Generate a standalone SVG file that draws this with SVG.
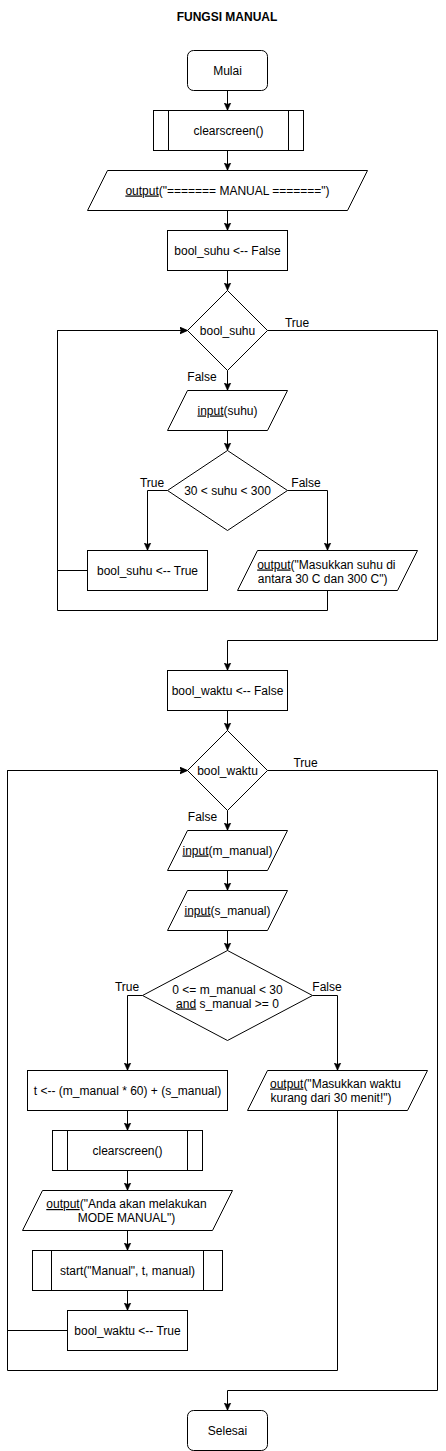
<svg xmlns="http://www.w3.org/2000/svg" width="446" height="1451" viewBox="0 0 446 1451">
<defs>
<style>
.n{fill:#fff;stroke:#000;stroke-width:1}
.e{fill:none;stroke:#000;stroke-width:1}
text{font-family:"Liberation Sans",Arial,Helvetica,sans-serif;font-size:12px;fill:#000}
.c{text-anchor:middle}
.t{font-weight:bold}
.u{text-decoration:underline}
</style>
<marker id="a" viewBox="0 0 8 8" refX="8" refY="4" markerWidth="8" markerHeight="8" markerUnits="userSpaceOnUse" orient="auto">
<path d="M0,0.5 L8,4 L0,7.5 L2,4 Z" fill="#000" stroke="#000" stroke-width="0.5"/>
</marker>
</defs>
<rect width="446" height="1451" fill="#fff"/>
<g transform="translate(0.5,0.5)">
<text class="c t" x="226.5" y="20">FUNGSI MANUAL</text>

<g id="connectors">
<path class="e" d="M227,90 V110" marker-end="url(#a)"/>
<path class="e" d="M227,150 V170" marker-end="url(#a)"/>
<path class="e" d="M227,210 V230" marker-end="url(#a)"/>
<path class="e" d="M227,270 V290" marker-end="url(#a)"/>
<path class="e" d="M227,370 V390" marker-end="url(#a)"/>
<path class="e" d="M227,430 V450" marker-end="url(#a)"/>
<path class="e" d="M167,490 H147 V550" marker-end="url(#a)"/>
<path class="e" d="M287,490 H327 V550" marker-end="url(#a)"/>
<path class="e" d="M87,570 H57 V330 H187" marker-end="url(#a)"/>
<path class="e" d="M327,590 V610 H57 V330 H187" marker-end="url(#a)"/>
<path class="e" d="M267,330 H437 V640 H227 V670" marker-end="url(#a)"/>
<path class="e" d="M227,710 V730" marker-end="url(#a)"/>
<path class="e" d="M227,810 V830" marker-end="url(#a)"/>
<path class="e" d="M227,870 V890" marker-end="url(#a)"/>
<path class="e" d="M227,930 V950" marker-end="url(#a)"/>
<path class="e" d="M142,995 H127 V1070" marker-end="url(#a)"/>
<path class="e" d="M312,995 H337 V1070" marker-end="url(#a)"/>
<path class="e" d="M127,1110 V1130" marker-end="url(#a)"/>
<path class="e" d="M127,1170 V1190" marker-end="url(#a)"/>
<path class="e" d="M127,1230 V1250" marker-end="url(#a)"/>
<path class="e" d="M127,1290 V1310" marker-end="url(#a)"/>
<path class="e" d="M67,1330 H7 V770 H187" marker-end="url(#a)"/>
<path class="e" d="M337,1110 V1370 H7 V770 H187" marker-end="url(#a)"/>
<path class="e" d="M267,770 H437 V1390 H227 V1410" marker-end="url(#a)"/>
<text class="c" x="201.5" y="380">False</text>
<text class="c" x="296.5" y="326">True</text>
<text class="c" x="151.5" y="486">True</text>
<text class="c" x="305.5" y="486">False</text>
<text class="c" x="305" y="766">True</text>
<text class="c" x="202" y="820">False</text>
<text class="c" x="126.5" y="990">True</text>
<text class="c" x="326.5" y="990">False</text>
</g>

<g id="mulai">
<rect class="n" x="187" y="50" width="80" height="40" rx="6"/>
<text class="c" x="227" y="74">Mulai</text>
</g>
<g id="clearscreen1">
<rect class="n" x="153" y="110" width="150" height="40"/>
<path class="e" d="M168,110 V150 M288,110 V150"/>
<text class="c" x="228" y="134">clearscreen()</text>
</g>
<g id="output-manual">
<path class="n" d="M107,170 H367 L347,210 H87 Z"/>
<text class="c" x="227" y="194"><tspan class="u">output</tspan>("======= MANUAL =======")</text>
</g>
<g id="bool-suhu-false">
<rect class="n" x="167" y="230" width="120" height="40"/>
<text class="c" x="227" y="254">bool_suhu &lt;-- False</text>
</g>
<g id="dec-bool-suhu">
<path class="n" d="M227,290 L267,330 L227,370 L187,330 Z"/>
<text class="c" x="227" y="334">bool_suhu</text>
</g>
<g id="input-suhu">
<path class="n" d="M187,390 H287 L267,430 H167 Z"/>
<text class="c" x="227" y="414"><tspan class="u">input</tspan>(suhu)</text>
</g>
<g id="dec-suhu">
<path class="n" d="M227,450 L287,490 L227,530 L167,490 Z"/>
<text class="c" x="227" y="494">30 &lt; suhu &lt; 300</text>
</g>
<g id="bool-suhu-true">
<rect class="n" x="87" y="550" width="120" height="40"/>
<text class="c" x="147" y="574">bool_suhu &lt;-- True</text>
</g>
<g id="output-suhu">
<path class="n" d="M257,550 H417 L397,590 H237 Z"/>
<text x="256.7" y="568"><tspan class="u">output</tspan>("Masukkan suhu di</text>
<text x="257.3" y="582">antara 30 C dan 300 C")</text>
</g>
<g id="bool-waktu-false">
<rect class="n" x="167" y="670" width="120" height="40"/>
<text class="c" x="227" y="694">bool_waktu &lt;-- False</text>
</g>
<g id="dec-bool-waktu">
<path class="n" d="M227,730 L267,770 L227,810 L187,770 Z"/>
<text class="c" x="227" y="774">bool_waktu</text>
</g>
<g id="input-m">
<path class="n" d="M187,830 H287 L267,870 H167 Z"/>
<text class="c" x="227" y="854"><tspan class="u">input</tspan>(m_manual)</text>
</g>
<g id="input-s">
<path class="n" d="M187,890 H287 L267,930 H167 Z"/>
<text class="c" x="227" y="914"><tspan class="u">input</tspan>(s_manual)</text>
</g>
<g id="dec-waktu">
<path class="n" d="M227,950 L312,995 L227,1040 L142,995 Z"/>
<text class="c" x="227" y="993">0 &lt;= m_manual &lt; 30</text>
<text class="c" x="227" y="1007"><tspan class="u">and</tspan> s_manual &gt;= 0</text>
</g>
<g id="assign-t">
<rect class="n" x="27" y="1070" width="200" height="40"/>
<text class="c" x="127" y="1094">t &lt;-- (m_manual * 60) + (s_manual)</text>
</g>
<g id="output-waktu">
<path class="n" d="M267,1070 H427 L407,1110 H247 Z"/>
<text x="269.5" y="1087"><tspan class="u">output</tspan>("Masukkan waktu</text>
<text x="270" y="1101">kurang dari 30 menit!")</text>
</g>
<g id="clearscreen2">
<rect class="n" x="52" y="1130" width="150" height="40"/>
<path class="e" d="M67,1130 V1170 M187,1130 V1170"/>
<text class="c" x="127" y="1154">clearscreen()</text>
</g>
<g id="output-mode">
<path class="n" d="M42,1190 H232 L212,1230 H22 Z"/>
<text class="c" x="126" y="1207.5"><tspan class="u">output</tspan>("Anda akan melakukan</text>
<text class="c" x="126" y="1221.5">MODE MANUAL")</text>
</g>
<g id="start">
<rect class="n" x="32" y="1250" width="190" height="40"/>
<path class="e" d="M51,1250 V1290 M203,1250 V1290"/>
<text class="c" x="127" y="1274">start("Manual", t, manual)</text>
</g>
<g id="bool-waktu-true">
<rect class="n" x="67" y="1310" width="120" height="40"/>
<text class="c" x="127" y="1334">bool_waktu &lt;-- True</text>
</g>
<g id="selesai">
<rect class="n" x="187" y="1410" width="80" height="40" rx="6"/>
<text class="c" x="227" y="1434">Selesai</text>
</g>
</g>
</svg>
